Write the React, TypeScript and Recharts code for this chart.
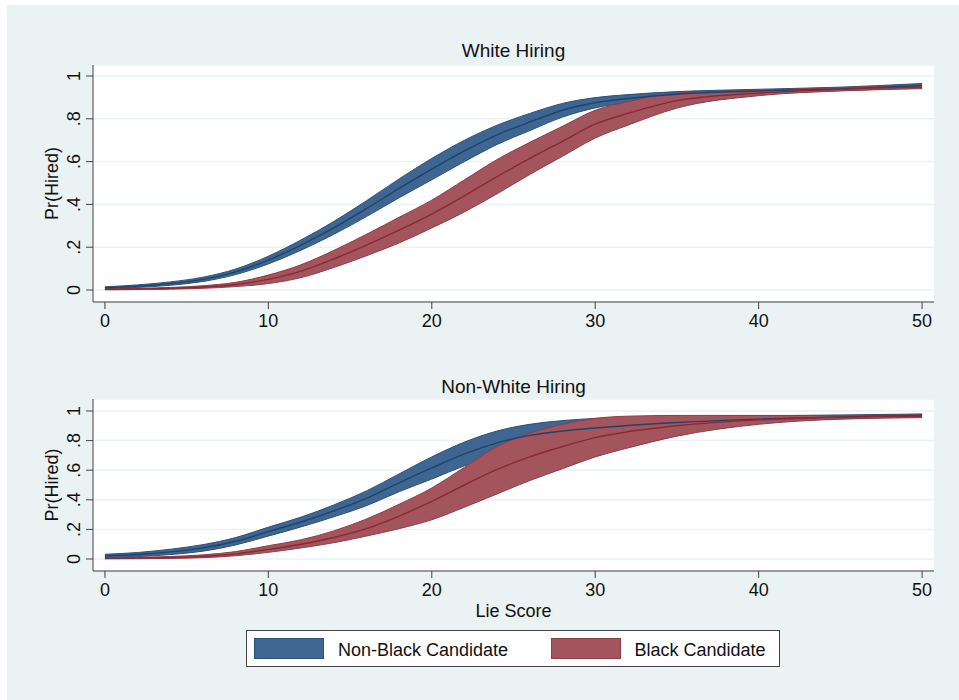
import { ComposedChart, Area, Line, XAxis, YAxis, CartesianGrid } from 'recharts'

// lie score grid the predictions are read at
const lieScore = [0, 2, 4, 6, 8, 10, 12, 14, 16, 18, 20, 22, 24, 26, 28, 30, 32, 35, 40, 45, 50]

// White Hiring panel
const whiteNonBlackLo = [0.005, 0.012, 0.022, 0.04, 0.072, 0.122, 0.186, 0.26, 0.343, 0.431, 0.515, 0.6, 0.68, 0.745, 0.808, 0.851, 0.877, 0.903, 0.922, 0.932, 0.945]
const whiteNonBlackMid = [0.01, 0.018, 0.03, 0.05, 0.085, 0.14, 0.21, 0.29, 0.38, 0.475, 0.565, 0.65, 0.725, 0.785, 0.84, 0.875, 0.895, 0.915, 0.93, 0.94, 0.955]
const whiteNonBlackHi = [0.015, 0.024, 0.038, 0.06, 0.098, 0.158, 0.234, 0.32, 0.417, 0.519, 0.615, 0.7, 0.77, 0.825, 0.872, 0.899, 0.913, 0.927, 0.938, 0.948, 0.965]
const whiteBlackLo = [0.001, 0.002, 0.004, 0.008, 0.016, 0.03, 0.058, 0.105, 0.16, 0.22, 0.29, 0.365, 0.45, 0.54, 0.625, 0.71, 0.77, 0.85, 0.908, 0.93, 0.941]
const whiteBlackMid = [0.003, 0.005, 0.008, 0.014, 0.026, 0.05, 0.088, 0.145, 0.21, 0.28, 0.355, 0.44, 0.53, 0.615, 0.695, 0.775, 0.825, 0.885, 0.92, 0.938, 0.948]
const whiteBlackHi = [0.005, 0.008, 0.012, 0.02, 0.036, 0.07, 0.118, 0.185, 0.26, 0.34, 0.42, 0.515, 0.61, 0.69, 0.765, 0.84, 0.88, 0.92, 0.932, 0.946, 0.955]

// Non-White Hiring panel
const nonWhiteNonBlackLo = [0.008, 0.016, 0.03, 0.053, 0.095, 0.155, 0.217, 0.285, 0.36, 0.455, 0.54, 0.63, 0.705, 0.76, 0.795, 0.82, 0.845, 0.88, 0.923, 0.947, 0.96]
const nonWhiteNonBlackMid = [0.02, 0.03, 0.048, 0.075, 0.12, 0.185, 0.25, 0.325, 0.41, 0.515, 0.615, 0.71, 0.785, 0.835, 0.865, 0.885, 0.902, 0.922, 0.945, 0.96, 0.97]
const nonWhiteNonBlackHi = [0.032, 0.044, 0.066, 0.097, 0.145, 0.215, 0.283, 0.365, 0.46, 0.575, 0.69, 0.79, 0.865, 0.91, 0.935, 0.95, 0.957, 0.962, 0.967, 0.973, 0.98]
const nonWhiteBlackLo = [0.001, 0.002, 0.004, 0.009, 0.022, 0.045, 0.075, 0.11, 0.155, 0.205, 0.265, 0.35, 0.44, 0.53, 0.61, 0.69, 0.75, 0.83, 0.91, 0.945, 0.955]
const nonWhiteBlackMid = [0.004, 0.006, 0.01, 0.018, 0.035, 0.065, 0.1, 0.145, 0.205, 0.29, 0.39, 0.5, 0.605, 0.69, 0.76, 0.82, 0.86, 0.9, 0.94, 0.958, 0.965]
const nonWhiteBlackHi = [0.008, 0.011, 0.017, 0.028, 0.05, 0.09, 0.13, 0.19, 0.27, 0.37, 0.48, 0.62, 0.76, 0.85, 0.91, 0.95, 0.965, 0.97, 0.97, 0.97, 0.975]

const xTicks = [0, 10, 20, 30, 40, 50]
const yTicks = [0, 0.2, 0.4, 0.6, 0.8, 1]
const yTickLabels = ['0', '.2', '.4', '.6', '.8', '1']

const BLUE_FILL = '#3f6690'
const BLUE_EDGE = '#2c507a'
const BLUE_LINE = '#1c446c'
const RED_FILL = '#a4545c'
const RED_EDGE = '#8f3d46'
const RED_LINE = '#872a34'
const BG = '#eaf2f3'
const AXIS = '#404040'
const FONT = '"Liberation Sans", Arial, Helvetica, sans-serif'

const makeRows = (
  nbLo: number[], nbMid: number[], nbHi: number[],
  bLo: number[], bMid: number[], bHi: number[],
) =>
  lieScore.map((x, i) => ({
    x,
    nonBlackBand: [nbLo[i], nbHi[i]],
    nonBlack: nbMid[i],
    blackBand: [bLo[i], bHi[i]],
    black: bMid[i],
  }))

const whiteRows = makeRows(whiteNonBlackLo, whiteNonBlackMid, whiteNonBlackHi, whiteBlackLo, whiteBlackMid, whiteBlackHi)
const nonWhiteRows = makeRows(nonWhiteNonBlackLo, nonWhiteNonBlackMid, nonWhiteNonBlackHi, nonWhiteBlackLo, nonWhiteBlackMid, nonWhiteBlackHi)

const YTick = (props: any) => {
  const { y, payload } = props
  const i = yTicks.indexOf(payload.value)
  const lx = 80
  return (
    <text x={lx} y={y} transform={`rotate(-90, ${lx}, ${y})`} textAnchor="middle" fontSize={18} fill="#111">
      {i >= 0 ? yTickLabels[i] : payload.value}
    </text>
  )
}

interface PanelProps {
  rows: ReturnType<typeof makeRows>
  height: number
  top: number
  yDomain: [number, number]
  xAxisHeight: number
}

function Panel({ rows, height, top, yDomain, xAxisHeight }: PanelProps) {
  return (
    <ComposedChart width={959} height={height} data={rows} margin={{ top, right: 25, bottom: 0, left: 0 }}>
      <CartesianGrid vertical={false} fill="#ffffff" stroke={BG} strokeWidth={1.5} />
      <XAxis
        type="number"
        dataKey="x"
        domain={[-0.73, 50.73]}
        ticks={xTicks}
        allowDataOverflow
        height={xAxisHeight}
        tickSize={7}
        tickMargin={5}
        stroke={AXIS}
        tick={{ fill: '#111', fontSize: 18 }}
      />
      <YAxis
        type="number"
        domain={yDomain}
        ticks={yTicks}
        allowDataOverflow
        width={93}
        tickSize={7}
        stroke={AXIS}
        tick={<YTick />}
      />
      <Area type="monotone" dataKey="nonBlackBand" fill={BLUE_FILL} fillOpacity={1} stroke={BLUE_EDGE} strokeWidth={1} isAnimationActive={false} />
      <Area type="monotone" dataKey="blackBand" fill={RED_FILL} fillOpacity={1} stroke={RED_EDGE} strokeWidth={1} isAnimationActive={false} />
      <Line type="monotone" dataKey="nonBlack" stroke={BLUE_LINE} strokeWidth={1.4} dot={false} isAnimationActive={false} />
      <Line type="monotone" dataKey="black" stroke={RED_LINE} strokeWidth={1.4} dot={false} isAnimationActive={false} />
    </ComposedChart>
  )
}

export default function App() {
  return (
    <div style={{ position: 'absolute', left: 0, top: 0, width: 959, height: 700, background: '#fff', fontFamily: FONT, overflow: 'hidden' }}>
      <div style={{ position: 'absolute', left: 7, top: 5, right: 0, bottom: 0, background: BG }} />
      <div style={{ position: 'absolute', left: 0, top: 0 }}>
        <Panel rows={whiteRows} height={340} top={65} yDomain={[-0.056, 1.0514]} xAxisHeight={38} />
      </div>
      <div style={{ position: 'absolute', left: 0, top: 340 }}>
        <Panel rows={nonWhiteRows} height={290} top={59} yDomain={[-0.081, 1.081]} xAxisHeight={59} />
      </div>
      <svg width={959} height={700} style={{ position: 'absolute', left: 0, top: 0, pointerEvents: 'none' }}>
        <text x={513.5} y={57} textAnchor="middle" fontSize={19} fill="#111">White Hiring</text>
        <text x={513.5} y={392.5} textAnchor="middle" fontSize={19} fill="#111">Non-White Hiring</text>
        <text x={58} y={183.5} transform="rotate(-90, 58, 183.5)" textAnchor="middle" fontSize={18} fill="#111">Pr(Hired)</text>
        <text x={58} y={485} transform="rotate(-90, 58, 485)" textAnchor="middle" fontSize={18} fill="#111">Pr(Hired)</text>
        <text x={513.5} y={617} textAnchor="middle" fontSize={18} fill="#111">Lie Score</text>
        <rect x={246.5} y={630.5} width={533} height={36} fill="#fff" stroke="#444" strokeWidth={1} />
        <rect x={254.5} y={638.5} width={69} height={20} fill={BLUE_FILL} stroke={BLUE_EDGE} strokeWidth={1} />
        <text x={338} y={656} fontSize={18} fill="#111">Non-Black Candidate</text>
        <rect x={551.5} y={638.5} width={69} height={20} fill={RED_FILL} stroke={RED_EDGE} strokeWidth={1} />
        <text x={634.5} y={656} fontSize={18} fill="#111">Black Candidate</text>
      </svg>
    </div>
  )
}
